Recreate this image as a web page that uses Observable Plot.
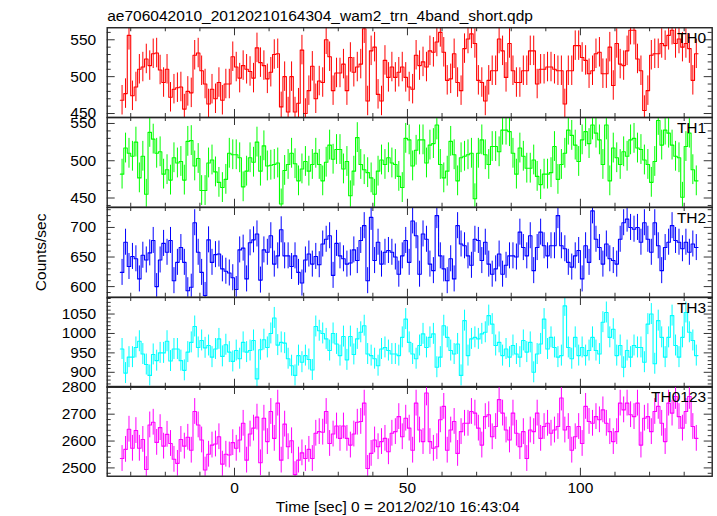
<!DOCTYPE html>
<html><head><meta charset="utf-8">
<script src="https://cdn.jsdelivr.net/npm/d3@7"></script>
<script src="https://cdn.jsdelivr.net/npm/@observablehq/plot@0.6"></script>
<style>
html,body{margin:0;padding:0;background:#fff;}
#chart{width:717px;height:516px;position:relative;overflow:hidden;background:#fff;}
#chart svg{display:block;overflow:visible;}
</style></head><body><div id="chart"></div>
<script>
const title = "ae706042010_20120210164304_wam2_trn_4band_short.qdp";
const yLabel = "Counts/sec";
const xLabel = "Time [sec] 0 = 2012/02/10 16:43:04";
const binStart = -33, binWidth = 1;
const xDomain = [-36.8, 138.1];
const xTickLabels = [0, 50, 100];
const xMinorTicks = [-30, -20, -10, 10, 20, 30, 40, 60, 70, 80, 90, 110, 120, 130];
const panelNames = ["TH0", "TH1", "TH2", "TH3", "TH0123"];
const panelColors = ["#ff0000", "#00ff00", "#0000ff", "#00ffff", "#ff00ff"];
const yDomains = [[444.6, 566.3], [437.6, 558], [582, 733.7], [861.5, 1092.6], [2469, 2803]];
const yTickLabels = [[450, 500, 550], [450, 500, 550], [600, 650, 700], [900, 950, 1000, 1050], [2500, 2600, 2700, 2800]];
const yMinorStep = [10, 10, 10, 10, 20];
const errHalf = [20, 20, 22, 27, 48];

const th0 = [468,477,556,474,486,510,513,524,515,531,
532,509,492,510,472,483,485,486,456,480,
478,529,532,508,490,463,483,470,492,468,
490,490,527,513,498,515,510,507,498,539,
519,515,497,506,530,531,459,500,452,500,
452,464,536,450,481,514,470,494,492,550,
527,481,505,505,517,481,526,506,513,
517,565,467,535,540,476,467,522,499,513,
499,506,513,499,486,483,529,515,520,513,
535,533,547,560,533,495,497,531,492,481,
538,551,558,545,495,492,467,495,508,508,
551,535,499,545,508,492,492,508,508,535,
535,490,510,510,513,513,510,508,508,463,
508,508,542,542,526,522,504,508,531,533,
504,504,540,488,545,517,515,535,563,563,
524,508,454,481,529,531,531,545,542,556,
563,545,551,540,545,538,495,531];

const th1 = [482,517,510,506,525,477,506,455,538,529,
510,512,482,488,474,504,497,499,474,526,
527,493,503,460,460,497,501,485,471,464,
475,510,508,508,504,465,486,504,498,525,
486,520,493,494,495,497,442,487,495,510,
496,473,489,499,486,495,510,495,473,498,
521,502,515,515,489,499,453,486,531,
495,488,484,477,455,486,501,495,504,497,495,479,464,530,528,493,
514,528,528,497,521,523,548,495,477,486,
526,508,473,504,506,508,510,449,510,528,
508,495,519,519,512,541,541,539,510,482,
517,506,490,490,501,479,468,482,482,484,
519,475,495,510,541,
534,521,499,528,539,523,548,537,528,495,
548,473,517,504,495,512,506,528,530,517,
515,501,495,471,499,554,521,541,537,521,
506,504,451,519,537,488,473];

const th2 = [624,675,634,651,647,613,653,645,657,678,
600,645,673,658,678,610,641,666,641,593,
599,708,658,624,585,679,641,654,655,630,
626,623,615,595,662,665,613,674,679,689,
611,662,658,686,638,652,696,652,652,634,
652,624,606,645,655,638,651,637,672,680,
686,619,673,652,647,638,640,662,644,
678,703,610,717,644,675,638,658,661,658,650,621,652,678,641,711,
686,621,689,680,638,627,720,652,630,610,
647,613,703,672,669,652,636,680,678,644,
675,638,621,630,655,621,636,652,652,650,
692,666,652,686,627,666,692,669,652,669,
669,720,669,664,641,
633,652,661,613,669,641,728,680,666,638,
672,647,644,638,680,708,714,700,697,700,
675,708,680,658,708,669,627,666,675,703,
678,675,664,675,658,672,666];

const th3 = [960,898,939,939,964,980,947,920,892,946,
930,950,950,980,929,960,960,930,905,952,
977,1018,964,982,963,969,939,960,986,941,
971,952,928,956,935,977,952,956,982,883,
958,984,964,1000,1040,970,977,975,935,917,
892,943,926,943,933,906,1018,1007,1000,986,
956,1000,973,943,992,932,992,946,986,
1003,1020,947,943,935,917,960,964,956,947,947,943,990,1037,977,947,
935,969,999,964,990,999,913,939,1020,990,
956,947,973,892,1033,943,986,990,986,999,
1003,1046,1024,969,977,943,960,939,969,947,
939,982,952,977,900,947,973,1037,960,990,
964,939,943,1071,964,
935,990,943,964,943,956,990,956,947,1029,
1054,990,1011,943,969,913,956,939,969,964,
964,926,1024,1050,922,1033,990,939,990,1046,
969,939,990,1054,1003,982,943];

const th0123 = [2535,2569,2644,2573,2639,2573,2606,2494,2660,2670,
2595,2650,2581,2625,2591,2532,2517,2606,2581,2614,
2566,2710,2660,2604,2492,2551,2585,2589,2616,2514,
2551,2548,2594,2573,2604,2666,2529,2626,2648,2689,
2519,2685,2598,2710,2610,2741,2529,2663,2579,2601,
2475,2529,2556,2535,2569,2535,2629,2635,2633,2710,
2591,2626,2656,2610,2656,2610,2585,2626,2670,
2673,2741,2498,2554,2604,2579,2598,2610,2560,2629,
2635,2691,2616,2685,2648,2566,2741,2641,2598,2779,
2598,2573,2579,2679,2729,2566,2641,2673,2554,2635,
2666,2666,2710,2704,2648,2585,2691,2698,2616,2654,
2754,2704,2641,2604,2704,2629,2579,2635,2535,2641,
2635,2704,2610,2654,2666,2629,2641,2654,2760,2641,
2654,2566,2616,2654,2591,2729,2673,2666,2691,2679,
2716,2666,2635,2598,2635,2741,2716,2741,2698,2691,
2741,2585,2685,2691,2635,2710,2729,2666,2598,2741,
2704,2766,2691,2648,2710,2766,2654,2610];

const series = [th0, th1, th2, th3, th0123];

const W = 717, ML = 106.7, MR = 5.3, PH = 89.75;
const FW = W - ML - MR;
const FONT = "'Liberation Sans', Arial, Helvetica, sans-serif";
const tickColor = "#333";

const chart = document.getElementById("chart");

series.forEach((vals, k) => {
  const color = panelColors[k];
  const steps = vals.map((v, i) => ({t: binStart + i * binWidth, v}));
  steps.push({t: binStart + vals.length * binWidth, v: vals[vals.length - 1]});
  const errs = vals.map((v, i) => ({tc: binStart + (i + 0.5) * binWidth, lo: v - errHalf[k], hi: v + errHalf[k]}));
  const [lo, hi] = yDomains[k];
  const st = yMinorStep[k];
  const majors = yTickLabels[k];
  const minors = d3.range(Math.ceil(lo / st) * st, hi, st).filter(v => !majors.includes(v));
  const top = k === 0 ? 27.25 : 0;
  const bottom = k === 4 ? 40 : 0;

  const marks = [
    Plot.ruleX(errs, {x: "tc", y1: "lo", y2: "hi", stroke: color, strokeWidth: 1, clip: true}),
    Plot.line(steps, {x: "t", y: "v", curve: "step-after", stroke: color, strokeWidth: 1.1, clip: true}),
    // x ticks bottom/top, inward
    Plot.tickX(xTickLabels, {x: d => d, insetTop: PH - 8, stroke: tickColor}),
    Plot.tickX(xTickLabels, {x: d => d, insetBottom: PH - 8, stroke: tickColor}),
    Plot.tickX(xMinorTicks, {x: d => d, insetTop: PH - 4, stroke: tickColor}),
    Plot.tickX(xMinorTicks, {x: d => d, insetBottom: PH - 4, stroke: tickColor}),
    // y ticks left/right, inward
    Plot.tickY(majors, {y: d => d, insetRight: FW - 8, stroke: tickColor}),
    Plot.tickY(majors, {y: d => d, insetLeft: FW - 8, stroke: tickColor}),
    Plot.tickY(minors, {y: d => d, insetRight: FW - 4, stroke: tickColor}),
    Plot.tickY(minors, {y: d => d, insetLeft: FW - 4, stroke: tickColor}),
    Plot.frame({stroke: "#222", strokeWidth: 1.4}),
    Plot.text(majors, {y: d => d, text: d => String(d), frameAnchor: "left", textAnchor: "end", dx: -11, fontSize: 15.5, fill: "black"}),
    Plot.text([panelNames[k]], {text: d => d, frameAnchor: "top-right", textAnchor: "end", lineAnchor: "middle", dx: -6, dy: 10.5, fontSize: 15.5, fill: "black"})
  ];
  if (k === 0) {
    marks.push(Plot.text([title], {text: d => d, frameAnchor: "top-left", textAnchor: "start", lineAnchor: "middle", dy: -11.5, fontSize: 15.5, fill: "black"}));
  }
  if (k === 2) {
    marks.push(Plot.text([yLabel], {text: d => d, frameAnchor: "left", rotate: -90, textAnchor: "middle", lineAnchor: "middle", dx: -65.7, fontSize: 15.5, fill: "black"}));
  }
  if (k === 4) {
    marks.push(Plot.text(xTickLabels, {x: d => d, text: d => String(d), frameAnchor: "bottom", lineAnchor: "middle", dy: 12, fontSize: 15.5, fill: "black"}));
    marks.push(Plot.text([xLabel], {text: d => d, frameAnchor: "bottom", lineAnchor: "middle", textAnchor: "middle", dx: -12, dy: 30.7, fontSize: 15.5, fill: "black"}));
  }

  const svg = Plot.plot({
    width: W,
    height: PH + top + bottom,
    marginLeft: ML,
    marginRight: MR,
    marginTop: top,
    marginBottom: bottom,
    x: {domain: xDomain, axis: null},
    y: {domain: yDomains[k], axis: null},
    style: {background: "transparent", overflow: "visible", fontFamily: FONT, fontSize: "15.5px", color: "black"},
    marks
  });
  chart.appendChild(svg);
});
</script>
</body></html>
